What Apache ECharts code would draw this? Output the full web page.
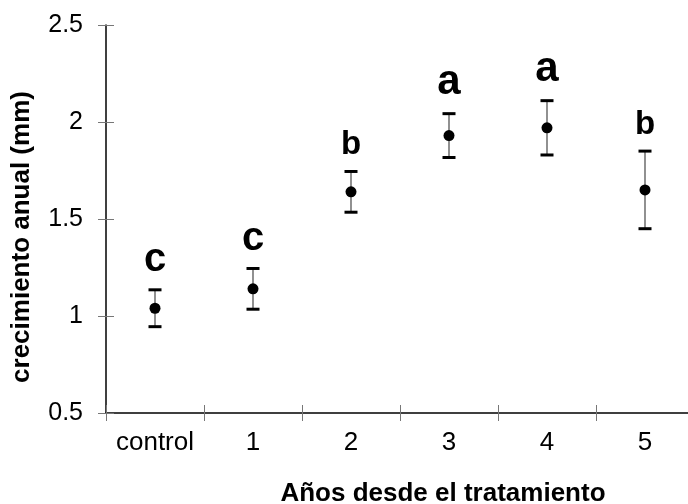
<!DOCTYPE html>
<html>
<head>
<meta charset="utf-8">
<script src="https://cdn.jsdelivr.net/npm/echarts@6/dist/echarts.min.js"></script>
<style>
  html, body { margin: 0; padding: 0; background: #fff; }
  #chart { width: 688px; height: 504px; }
</style>
</head>
<body>
<div id="chart"></div>
<script>
// Annual growth (mean ± error) by years since treatment
const categories = ['control', '1', '2', '3', '4', '5'];
const means      = [1.04, 1.14, 1.64, 1.93, 1.97, 1.65];
const errors     = [0.095, 0.105, 0.105, 0.113, 0.14, 0.2];
const letters    = ['c', 'c', 'b', 'a', 'a', 'b'];
const yTicks     = [0.5, 1, 1.5, 2, 2.5];

const FONT = '"Liberation Sans", Arial, Helvetica, sans-serif';
const letterSize = { a: 42, b: 33, c: 40 };

const barData = categories.map((c, i) => [i, means[i], means[i] + errors[i], means[i] - errors[i]]);

function renderErrorBar(params, api) {
  const i = api.value(0);
  const top = api.coord([i, api.value(2)]);
  const bot = api.coord([i, api.value(3)]);
  const x = top[0];
  const capHalf = 6.5;
  const letter = letters[params.dataIndex];
  return {
    type: 'group',
    children: [
      { type: 'line', shape: { x1: x, y1: top[1], x2: x, y2: bot[1] },
        style: { stroke: '#555', lineWidth: 1.3 } },
      { type: 'line', shape: { x1: x - capHalf, y1: top[1], x2: x + capHalf, y2: top[1] },
        style: { stroke: '#000', lineWidth: 3 } },
      { type: 'line', shape: { x1: x - capHalf, y1: bot[1], x2: x + capHalf, y2: bot[1] },
        style: { stroke: '#000', lineWidth: 3 } },
      { type: 'text', x: x, y: top[1] - 10,
        style: { text: letter, fill: '#000', fontFamily: FONT, fontWeight: 'bold',
                 fontSize: letterSize[letter], align: 'center', verticalAlign: 'bottom' } }
    ]
  };
}

const chart = echarts.init(document.getElementById('chart'), null, { renderer: 'canvas' });

const yBase = { type: 'value', min: yTicks[0], max: yTicks[yTicks.length - 1], interval: 0.5 };

chart.setOption({
  backgroundColor: '#fff',
  animation: false,
  grid: { left: 106, top: 25, bottom: 91, right: -6, containLabel: false, outerBoundsMode: 'none' },
  xAxis: [
    {
      type: 'category', data: categories, position: 'bottom',
      axisLine: { lineStyle: { color: '#000', width: 1.5 } },
      axisTick: { show: true, length: 8, lineStyle: { color: '#777', width: 1 } },
      axisLabel: { color: '#000', fontSize: 26, fontFamily: FONT, margin: 17, interval: 0 },
      splitLine: { show: false },
      name: 'Años desde el tratamiento', nameLocation: 'middle', nameGap: 68,
      nameTextStyle: { color: '#000', fontSize: 26, fontWeight: 'bold', fontFamily: FONT,
                       padding: [0, 0, 0, 86] }
    },
    {
      type: 'category', data: categories, position: 'bottom', offset: 0,
      axisLine: { show: false },
      axisTick: { show: true, inside: true, length: 8, interval: 0, lineStyle: { color: '#777', width: 1 } },
      axisLabel: { show: false }, splitLine: { show: false }
    }
  ],
  yAxis: [
    Object.assign({}, yBase, {
      axisLine: { show: true, lineStyle: { color: '#000', width: 1.5 } },
      axisTick: { show: true, length: 8, lineStyle: { color: '#777', width: 1 } },
      axisLabel: { color: '#000', fontSize: 25, fontFamily: FONT, margin: 23 },
      splitLine: { show: false },
      name: 'crecimiento anual (mm)', nameLocation: 'middle', nameGap: 71,
      nameTextStyle: { color: '#000', fontSize: 26, fontWeight: 'bold', fontFamily: FONT,
                       padding: [0, 36, 0, 0] }
    }),
    Object.assign({}, yBase, {
      position: 'left',
      axisLine: { show: false },
      axisTick: { show: true, inside: true, length: 8, lineStyle: { color: '#777', width: 1 } },
      axisLabel: { show: false }, splitLine: { show: false }
    })
  ],
  series: [
    {
      type: 'custom', name: 'error', xAxisIndex: 0, yAxisIndex: 0,
      renderItem: renderErrorBar, data: barData, z: 2,
      encode: { x: 0, y: [1, 2, 3] }
    },
    {
      type: 'scatter', name: 'mean', xAxisIndex: 0, yAxisIndex: 0,
      data: means.map((m, i) => [i, m]),
      symbol: 'circle', symbolSize: 11,
      itemStyle: { color: '#000', opacity: 1 }, z: 3
    }
  ]
});
</script>
</body>
</html>
